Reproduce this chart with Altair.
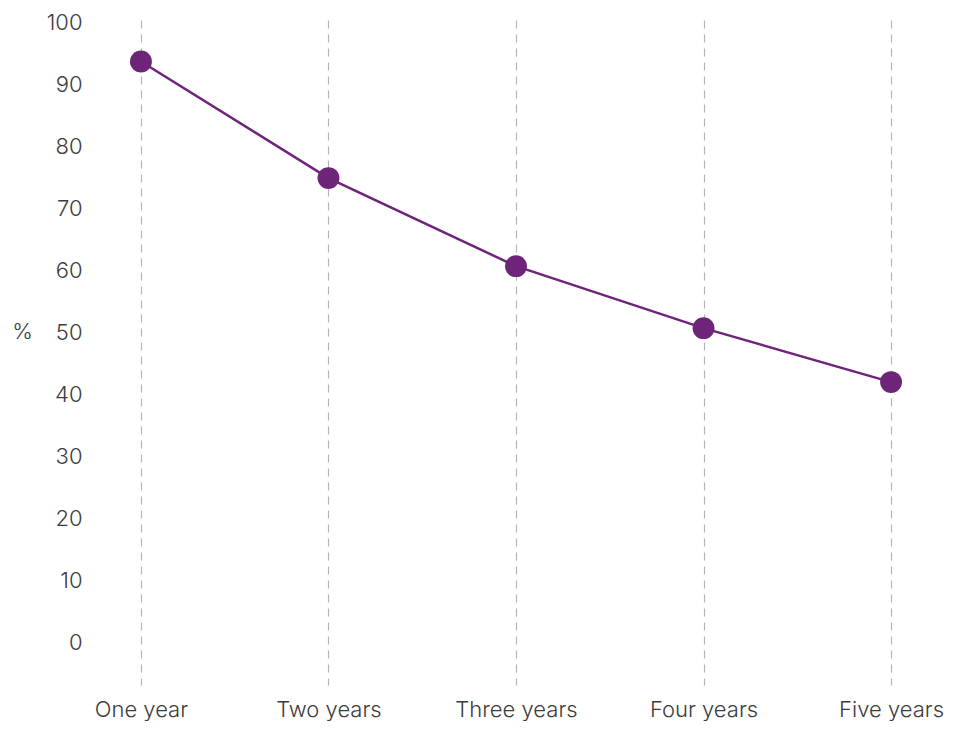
import altair as alt
import pandas as pd

categories = ["One year", "Two years", "Three years", "Four years", "Five years"]
values = [93.7, 74.9, 60.7, 50.7, 42.0]
y_ticks = [0, 10, 20, 30, 40, 50, 60, 70, 80, 90, 100]

df = pd.DataFrame({"period": categories, "pct": values})

FONT = "Inter"
TXT = "#3c3c3c"
PURPLE = "#6e2479"

x = alt.X(
    "period:N",
    sort=categories,
    scale=alt.Scale(type="point", padding=0.165),
    axis=alt.Axis(
        title=None, domain=False, ticks=False, labelAngle=0,
        labelPadding=14, labelFontSize=22, labelFont=FONT, labelColor=TXT,
        labelFontWeight=300,
        grid=True, gridDash=[8, 6], gridColor="#b5b5b5", gridWidth=1.2,
    ),
)
y = alt.Y(
    "pct:Q",
    scale=alt.Scale(domain=[-6.85, 100.4], nice=False, zero=False),
    axis=alt.Axis(
        title="%", titleAngle=0, titleX=-88, titleY=311, titleAlign="center",
        titleBaseline="middle", titleFontSize=22, titleFont=FONT,
        titleFontWeight=300, titleColor=TXT,
        values=y_ticks, domain=False, ticks=False, grid=False,
        labelPadding=28, labelFontSize=22, labelFont=FONT, labelColor=TXT,
        labelFontWeight=300,
    ),
)

line = alt.Chart(df).mark_line(color=PURPLE, strokeWidth=2.5).encode(x=x, y=y)
pts = alt.Chart(df).mark_circle(color=PURPLE, size=480, opacity=1).encode(x=x, y=y)

chart = (
    alt.layer(line, pts)
    .properties(
        width=812, height=665,
        autosize=alt.AutoSizeParams(type="none"),
        padding={"left": 102, "top": 12, "right": 24, "bottom": 36},
        view=alt.ViewBackground(strokeOpacity=0, strokeWidth=0),
    )
    .configure_view(strokeWidth=0, strokeOpacity=0)
    .configure(background="white")
)

chart.save("out.html", embed_options={"renderer": "svg", "actions": False})
